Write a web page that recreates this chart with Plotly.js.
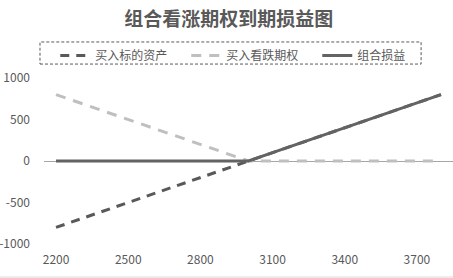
<!DOCTYPE html>
<html><head><meta charset="utf-8">
<script src="https://cdn.plot.ly/plotly-3.0.1.min.js"></script>
<style>html,body{margin:0;padding:0;background:#fff}#c{width:453px;height:278px}</style>
</head><body><div id="c"></div>
<script>
const prices = [2200,2300,2400,2500,2600,2700,2800,2900,3000,3100,3200,3300,3400,3500,3600,3700,3800];
const underlying = [-800,-700,-600,-500,-400,-300,-200,-100,0,100,200,300,400,500,600,700,800];
const longPut = [800,700,600,500,400,300,200,100,0,0,0,0,0,0,0,0,0];
const combined = [0,0,0,0,0,0,0,0,0,100,200,300,400,500,600,700,800];
const xTicks = [2200,2500,2800,3100,3400,3700];
const yTicks = [-1000,-500,0,500,1000];
const names = ['买入标的资产','买入看跌期权','组合损益'];

const font = "'Noto Sans CJK SC', 'Open Sans', sans-serif";
const traces = [
  {x: prices, y: underlying, name: names[0], mode: 'lines',
   line: {color: '#595959', width: 3, dash: '9px,7px'}},
  {x: prices, y: longPut, name: names[1], mode: 'lines',
   line: {color: '#bfbfbf', width: 3, dash: '10px,8px'}},
  {x: prices, y: combined, name: names[2], mode: 'lines',
   line: {color: '#636363', width: 3}}
];
const layout = {
  width: 453, height: 278,
  margin: {l: 44, r: 0, t: 78, b: 34},
  paper_bgcolor: '#fff', plot_bgcolor: '#fff',
  font: {family: font, size: 12, color: '#595959'},
  title: {text: '组合看涨期权到期损益图', x: 0.505, xref: 'container', y: 0.955, yref: 'container',
          font: {family: font, size: 19, weight: 'bold', color: '#595959'}},
  showlegend: true,
  legend: {orientation: 'h', xref: 'container', x: 0.122, xanchor: 'left', yref: 'container', y: 0.80, yanchor: 'middle',
           entrywidth: 86, entrywidthmode: 'pixels', font: {size: 12, color: '#595959'},
           bgcolor: 'rgba(0,0,0,0)', borderwidth: 0},
  xaxis: {range: [2150, 3850], tickvals: xTicks, ticktext: xTicks.map(String),
          showgrid: false, zeroline: false, showline: false, ticks: '',
          ticklabelstandoff: 7, tickfont: {size: 12, color: '#595959'}, fixedrange: true},
  yaxis: {range: [-1000, 1000], tickvals: yTicks, ticktext: yTicks.map(String),
          showgrid: false, zeroline: true, zerolinecolor: '#a6a6a6', zerolinewidth: 1,
          showline: false, ticks: '', ticklabelstandoff: 13,
          tickfont: {size: 12, color: '#595959'}, fixedrange: true},
  shapes: [
    {type: 'rect', xref: 'paper', yref: 'paper', x0: -0.0098, x1: 0.922, y0: 1.084, y1: 1.217,
     line: {color: '#595959', width: 1, dash: '3px,2px'}, fillcolor: 'rgba(0,0,0,0)'},
    {type: 'line', xref: 'paper', yref: 'paper', x0: -0.11, x1: 1, y0: -0.199, y1: -0.199,
     line: {color: '#d9d9d9', width: 1}}
  ]
};
Plotly.newPlot('c', traces, layout, {displayModeBar: false, staticPlot: true});
</script></body></html>
